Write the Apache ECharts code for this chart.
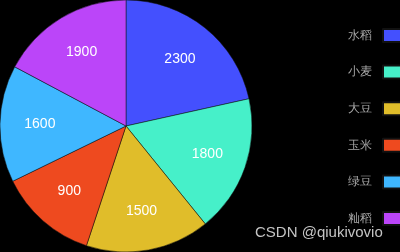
<!DOCTYPE html>
<html>
<head>
<meta charset="utf-8">
<script src="https://cdn.jsdelivr.net/npm/echarts@6/dist/echarts.min.js"></script>
<style>
    html, body { margin: 0; padding: 0; background: #000; }
    #main { width: 400px; height: 252px; }
</style>
</head>
<body>
<div id="main"></div>
<script>
// 品种
var names = ['水稻', '小麦', '大豆', '玉米', '绿豆', '籼稻'];
// 扇区上显示的数值
var labelValues = [2300, 1800, 1500, 900, 1600, 1900];
// 图上量出的扇区角度(度)
var sliceShares = [77.5, 63.5, 57.3, 45.7, 54, 62];
var colors = ['#4450FE', '#46F0C9', '#E0BD2A', '#EE4A1F', '#3FB7FF', '#BB45F9'];

function buildPieData() {
    var dats = [];
    for (var i = 0; i < names.length; i++) {
        dats.push({
            name: names[i],
            value: sliceShares[i],
            shown: labelValues[i]
        });
    }
    return dats;
}

function getPieOpt() {
    var pieData = buildPieData();
    var pieOpt = {
        backgroundColor: '#000',
        color: colors,
        legend: {
            orient: 'vertical',
            right: -2,
            top: 28,
            padding: 0,
            align: 'right',
            itemWidth: 18,
            itemHeight: 13,
            itemGap: 21.6,
            icon: 'rect',
            textStyle: {
                color: '#a8a8a8',
                fontSize: 12,
                padding: [0, 6, 0, 0]
            },
            data: names
        },
        graphic: [{
            type: 'text',
            left: 255,
            top: 225,
            style: {
                text: 'CSDN @qiukivovio',
                fill: '#c4c4c4',
                font: '15px "Liberation Sans", Arial, sans-serif'
            }
        }],
        series: [{
            name: '产量',
            type: 'pie',
            center: ['31.5%', '50%'],
            radius: ['0%', '100%'],
            startAngle: 90,
            itemStyle: {
                borderColor: '#111',
                borderWidth: 0.5
            },
            label: { show: false },
            labelLine: { show: false },
            emphasis: { scale: false },
            data: pieData
        }, {
            // 透明环只用来放标签
            name: '标签',
            type: 'pie',
            silent: true,
            center: ['31.5%', '50%'],
            radius: ['32%', '100%'],
            startAngle: 90,
            legendHoverLink: false,
            itemStyle: { color: 'rgba(0,0,0,0)' },
            label: {
                show: true,
                position: 'inner',
                color: '#fff',
                fontSize: 14,
                formatter: function (p) {
                    return p.data.shown;
                }
            },
            labelLine: { show: false },
            data: pieData
        }]
    };
    return pieOpt;
}

var chart = echarts.init(document.getElementById('main'));
chart.setOption(getPieOpt());
</script>
</body>
</html>
